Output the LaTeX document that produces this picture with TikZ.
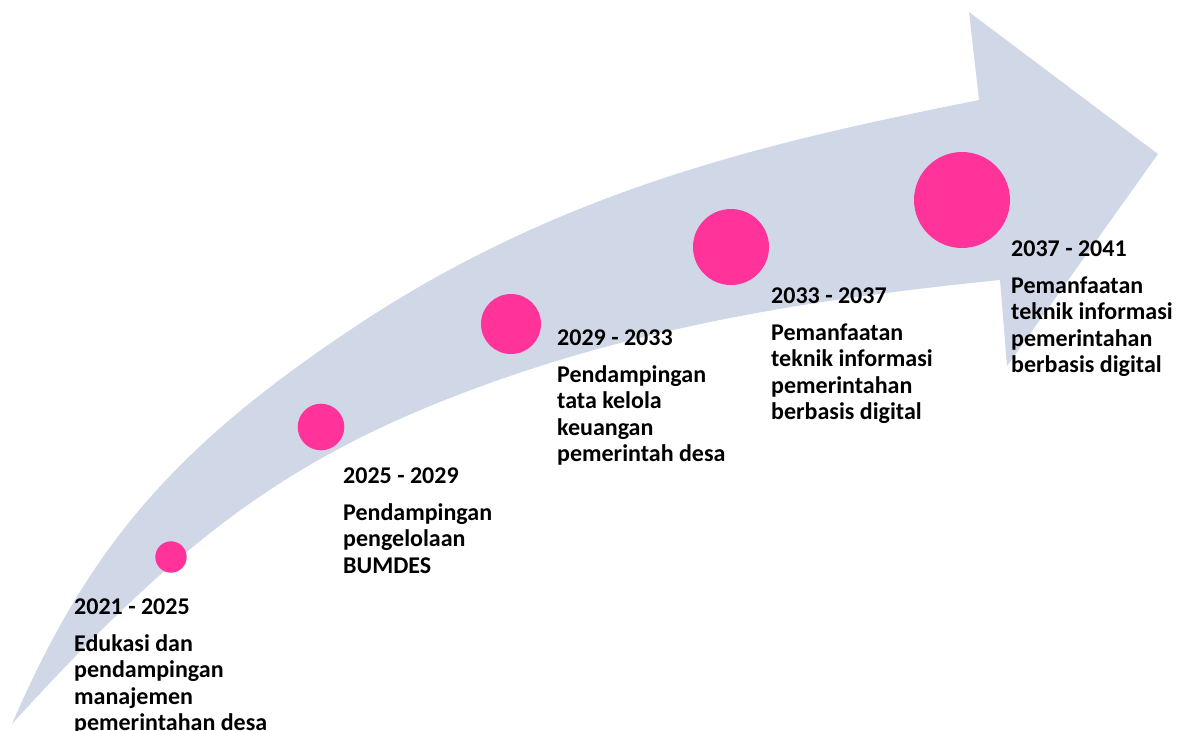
\documentclass[tikz,border=0pt]{standalone}
\usepackage{fontspec}
\setmainfont{Carlito}
\definecolor{arrowfill}{HTML}{D0D8E8}
\definecolor{dotpink}{HTML}{FF3399}
\begin{document}
\begin{tikzpicture}[x=1pt,y=-1pt,
  dot/.style={circle, fill=dotpink, draw=none, inner sep=0pt},
  yeartitle/.style={anchor=base west, inner sep=0pt, font=\fontsize{24}{26.5}\selectfont\bfseries},
  bodytext/.style={anchor=base west, inner sep=0pt, align=left, font=\fontsize{24}{26.5}\selectfont\bfseries}]
\useasboundingbox (0,0) rectangle (1181,731);
% big curved arrow
\fill[arrowfill] (12,724) .. controls (89,546) and (174,448) .. (350,330)
  .. controls (560,189) and (769,142) .. (979,100)
  -- (969,12) -- (1158,154) -- (1007,366) -- (1000,280)
  .. controls (813,299) and (627,327) .. (440,402)
  .. controls (280.5,466) and (173.5,546) .. (12,724) -- cycle;
% dots
\node[dot, minimum size=31.4pt] (c1) at (171,557) {};
\node[dot, minimum size=46.6pt] (c2) at (321,427) {};
\node[dot, minimum size=60pt] (c3) at (511,324) {};
\node[dot, minimum size=76pt] (c4) at (731,247) {};
\node[dot, minimum size=96pt] (c5) at (962,200) {};
% texts (body nodes are placed at the baseline of their last line)
\node[yeartitle] (t1) at (74,614) {2021 - 2025};
\node[bodytext] (b1) at (74,730.5) {Edukasi dan\\pendampingan\\manajemen\\pemerintahan desa};
\node[yeartitle] (t2) at (343,483) {2025 - 2029};
\node[bodytext] (b2) at (343,573) {Pendampingan\\pengelolaan\\BUMDES};
\node[yeartitle] (t3) at (557,345) {2029 - 2033};
\node[bodytext] (b3) at (557,461.5) {Pendampingan\\tata kelola\\keuangan\\pemerintah desa};
\node[yeartitle] (t4) at (771,303) {2033 - 2037};
\node[bodytext] (b4) at (771,419.5) {Pemanfaatan\\teknik informasi\\pemerintahan\\berbasis digital};
\node[yeartitle] (t5) at (1011,256) {2037 - 2041};
\node[bodytext] (b5) at (1011,372.5) {Pemanfaatan\\teknik informasi\\pemerintahan\\berbasis digital};
\end{tikzpicture}
\end{document}
